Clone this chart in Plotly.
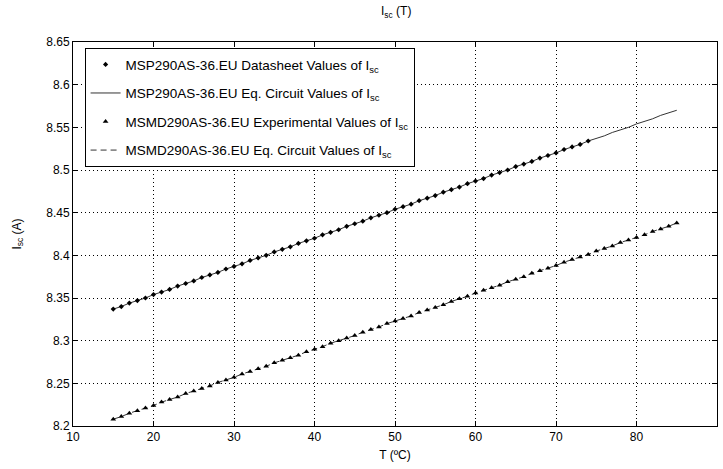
import plotly.graph_objects as go

# Temperatures (°C)
T_ds = [15,16,17,18,19,20,21,22,23,24,25,26,27,28,29,30,31,32,33,34,35,36,37,38,39,40,
        41,42,43,44,45,46,47,48,49,50,51,52,53,54,55,56,57,58,59,60,61,62,63,64,65,66,67,
        68,69,70,71,72,73,74]
T_full = [15,16,17,18,19,20,21,22,23,24,25,26,27,28,29,30,31,32,33,34,35,36,37,38,39,40,
          41,42,43,44,45,46,47,48,49,50,51,52,53,54,55,56,57,58,59,60,61,62,63,64,65,66,67,
          68,69,70,71,72,73,74,75,76,77,78,79,80,81,82,83,84,85]

# MSP290AS-36.EU datasheet values of Isc
isc_msp_ds = [8.337,8.340,8.344,8.347,8.350,8.354,8.357,8.360,8.364,8.367,8.370,8.374,8.377,
              8.380,8.384,8.387,8.390,8.394,8.397,8.400,8.404,8.407,8.410,8.414,8.417,8.420,
              8.424,8.427,8.430,8.434,8.437,8.440,8.444,8.447,8.450,8.454,8.457,8.460,8.464,
              8.467,8.470,8.474,8.477,8.480,8.484,8.487,8.490,8.494,8.497,8.500,8.504,8.507,
              8.510,8.514,8.517,8.520,8.524,8.527,8.530,8.534]
# MSP290AS-36.EU equivalent circuit values of Isc
isc_msp_eq = [8.337,8.340,8.344,8.347,8.350,8.354,8.357,8.360,8.364,8.367,8.370,8.374,8.377,
              8.380,8.384,8.387,8.390,8.394,8.397,8.400,8.404,8.407,8.410,8.414,8.417,8.420,
              8.424,8.427,8.430,8.434,8.437,8.440,8.444,8.447,8.450,8.454,8.457,8.460,8.464,
              8.467,8.470,8.474,8.477,8.480,8.484,8.487,8.490,8.494,8.497,8.500,8.504,8.507,
              8.510,8.514,8.517,8.520,8.524,8.527,8.530,8.534,8.537,8.540,8.544,8.547,8.550,
              8.554,8.557,8.560,8.564,8.567,8.570]
# MSMD290AS-36.EU experimental values of Isc
isc_msmd_exp = [8.208,8.211,8.215,8.218,8.221,8.224,8.228,8.231,8.234,8.238,8.241,8.244,8.247,
                8.251,8.254,8.257,8.261,8.264,8.267,8.270,8.274,8.277,8.280,8.283,8.287,8.290,
                8.293,8.297,8.300,8.303,8.306,8.310,8.313,8.316,8.320,8.323,8.326,8.329,8.333,
                8.336,8.339,8.342,8.346,8.349,8.352,8.356,8.359,8.362,8.365,8.369,8.372,8.375,
                8.379,8.382,8.385,8.388,8.392,8.395,8.398,8.401,8.405,8.408,8.411,8.415,8.418,
                8.421,8.424,8.428,8.431,8.434,8.438]
# MSMD290AS-36.EU equivalent circuit values of Isc
isc_msmd_eq = [8.208,8.211,8.215,8.218,8.221,8.224,8.228,8.231,8.234,8.238,8.241,8.244,8.247,
               8.251,8.254,8.257,8.261,8.264,8.267,8.270,8.274,8.277,8.280,8.283,8.287,8.290,
               8.293,8.297,8.300,8.303,8.306,8.310,8.313,8.316,8.320,8.323,8.326,8.329,8.333,
               8.336,8.339,8.342,8.346,8.349,8.352,8.356,8.359,8.362,8.365,8.369,8.372,8.375,
               8.379,8.382,8.385,8.388,8.392,8.395,8.398,8.401,8.405,8.408,8.411,8.415,8.418,
               8.421,8.424,8.428,8.431,8.434,8.438]

x_ticks = [10,20,30,40,50,60,70,80,90]
y_ticks = [8.2,8.25,8.3,8.35,8.4,8.45,8.5,8.55,8.6,8.65]
y_tick_text = ["8.2","8.25","8.3","8.35","8.4","8.45","8.5","8.55","8.6","8.65"]

fig = go.Figure()
fig.add_trace(go.Scatter(x=T_full, y=isc_msp_eq, mode="lines",
                         line=dict(color="#333333", width=1),
                         legendgroup="b", legendrank=2,
                         name="MSP290AS-36.EU Eq. Circuit Values of I<sub>sc</sub>"))
fig.add_trace(go.Scatter(x=T_full, y=isc_msmd_eq, mode="lines",
                         line=dict(color="#333333", width=1, dash="6px,4px"),
                         legendgroup="d", legendrank=4,
                         name="MSMD290AS-36.EU Eq. Circuit Values of I<sub>sc</sub>"))
fig.add_trace(go.Scatter(x=T_ds, y=isc_msp_ds, mode="markers",
                         marker=dict(symbol="diamond", size=4, color="black"),
                         legendgroup="a", legendrank=1,
                         name="MSP290AS-36.EU Datasheet Values of I<sub>sc</sub>"))
fig.add_trace(go.Scatter(x=T_full, y=isc_msmd_exp, mode="markers",
                         marker=dict(symbol="triangle-up", size=5, color="black"),
                         legendgroup="c", legendrank=3,
                         name="MSMD290AS-36.EU Experimental Values of I<sub>sc</sub>"))

axis_common = dict(showline=True, linecolor="black", linewidth=1, mirror="allticks",
                   ticks="inside", ticklen=5, tickcolor="black",
                   showgrid=True, gridcolor="black", gridwidth=1, griddash="1px,3px",
                   zeroline=False, tickfont=dict(size=12, color="black"))

fig.update_layout(
    width=723, height=469,
    margin=dict(l=73, r=6, t=42, b=43),
    paper_bgcolor="white", plot_bgcolor="white",
    font=dict(family="Liberation Sans, Arial, sans-serif", size=12, color="black"),
    title=dict(text="I<sub>sc</sub> (T)", x=0.548, xanchor="center", y=0.985, yanchor="top",
               font=dict(size=12)),
    xaxis=dict(range=[10, 90], tickvals=x_ticks,
               title=dict(text="T (ºC)", standoff=7, font=dict(size=12)), **axis_common),
    yaxis=dict(range=[8.2, 8.65], tickvals=y_ticks, ticktext=y_tick_text,
               title=dict(text="I<sub>sc</sub> (A)", standoff=22, font=dict(size=12)), **axis_common),
    legend=dict(x=0.018, y=0.984, xanchor="left", yanchor="top",
                bgcolor="white", bordercolor="black", borderwidth=1,
                font=dict(size=13.5), tracegroupgap=8, traceorder="grouped"),
    showlegend=True,
)

fig.write_html("out.html")
